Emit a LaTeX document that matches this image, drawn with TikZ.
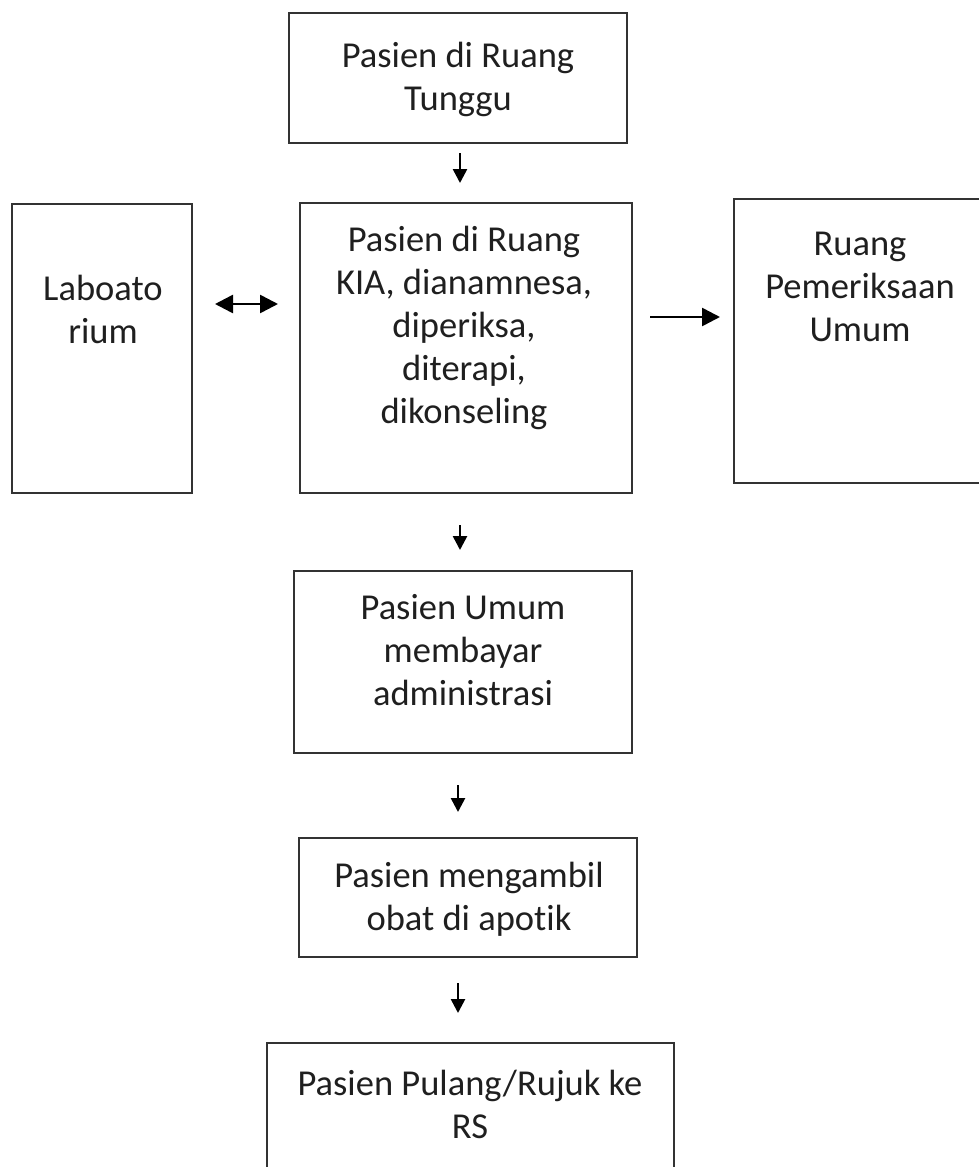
\documentclass[tikz,border=0pt]{standalone}
\usepackage{fontspec}
\setmainfont[Ligatures={NoCommon}]{Carlito}
\usetikzlibrary{arrows.meta}
\begin{document}
\begin{tikzpicture}[x=1pt,y=-1pt,
  box/.style={draw=black!80, line width=2.8pt, inner sep=0pt, outer sep=0pt},
  txt/.style={align=center, inner sep=0pt, text=black!88, anchor=base,
    font=\fontsize{36.5}{43}\selectfont},
  varr/.style={line width=2.6pt, -{Triangle[length=14pt,width=14pt]}},
  harr/.style={line width=2.6pt, -{Triangle[length=18pt,width=18pt]}},
  darr/.style={line width=2.6pt, {Triangle[length=18pt,width=18pt]}-{Triangle[length=18pt,width=18pt]}}]
\useasboundingbox (0,0) rectangle (979,1167);
\clip (0,0) rectangle (979,1167);
% boxes
\node[box, minimum width=338pt, minimum height=130pt] (tunggu) at (458,78) {};
\node[box, minimum width=180pt, minimum height=289pt] (lab) at (102,348.5) {};
\node[box, minimum width=332pt, minimum height=290pt] (kia) at (466,348) {};
\node[box, minimum width=252pt, minimum height=284pt] (ruang) at (860,341) {};
\node[box, minimum width=338pt, minimum height=182pt] (umum) at (463,662) {};
\node[box, minimum width=338pt, minimum height=119pt] (obat) at (468,897.5) {};
\node[box, minimum width=407pt, minimum height=200pt] (pulang) at (470.5,1143) {};
% texts (anchor base = baseline of last line)
\node[txt] (tungguT) at (458,110) {Pasien di Ruang\\Tunggu};
\node[txt] (labT) at (103,343) {Laboato\\rium};
\node[txt] (kiaT) at (464,423) {Pasien di Ruang\\KIA, dianamnesa,\\diperiksa,\\diterapi,\\dikonseling};
\node[txt] (ruangT) at (860,341) {Ruang\\Pemeriksaan\\Umum};
\node[txt] (umumT) at (463,705) {Pasien Umum\\membayar\\administrasi};
\node[txt] (obatT) at (469,930) {Pasien mengambil\\obat di apotik};
\node[txt] (pulangT) at (470,1138) {Pasien Pulang/Rujuk ke\\RS};
% connectors
\draw[varr, shorten <=10pt, shorten >=20pt] ([xshift=2pt]tunggu.south) -- ([xshift=2pt]tunggu.south |- kia.north);
\draw[darr, shorten <=23pt, shorten >=22pt] (lab.east |- 0,304) -- (kia.west |- 0,304);
\draw[harr, shorten <=18pt, shorten >=14pt] (kia.east |- 0,317) -- (ruang.west |- 0,317);
\draw[varr, shorten <=32pt, shorten >=21pt] ([xshift=-6pt]kia.south) -- ([xshift=-6pt]kia.south |- umum.north);
\draw[varr, shorten <=32pt, shorten >=26pt] ([xshift=-5pt]umum.south) -- ([xshift=-5pt]umum.south |- obat.north);
\draw[varr, shorten <=26pt, shorten >=30pt] ([xshift=-10pt]obat.south) -- ([xshift=-10pt]obat.south |- pulang.north);
\end{tikzpicture}
\end{document}
